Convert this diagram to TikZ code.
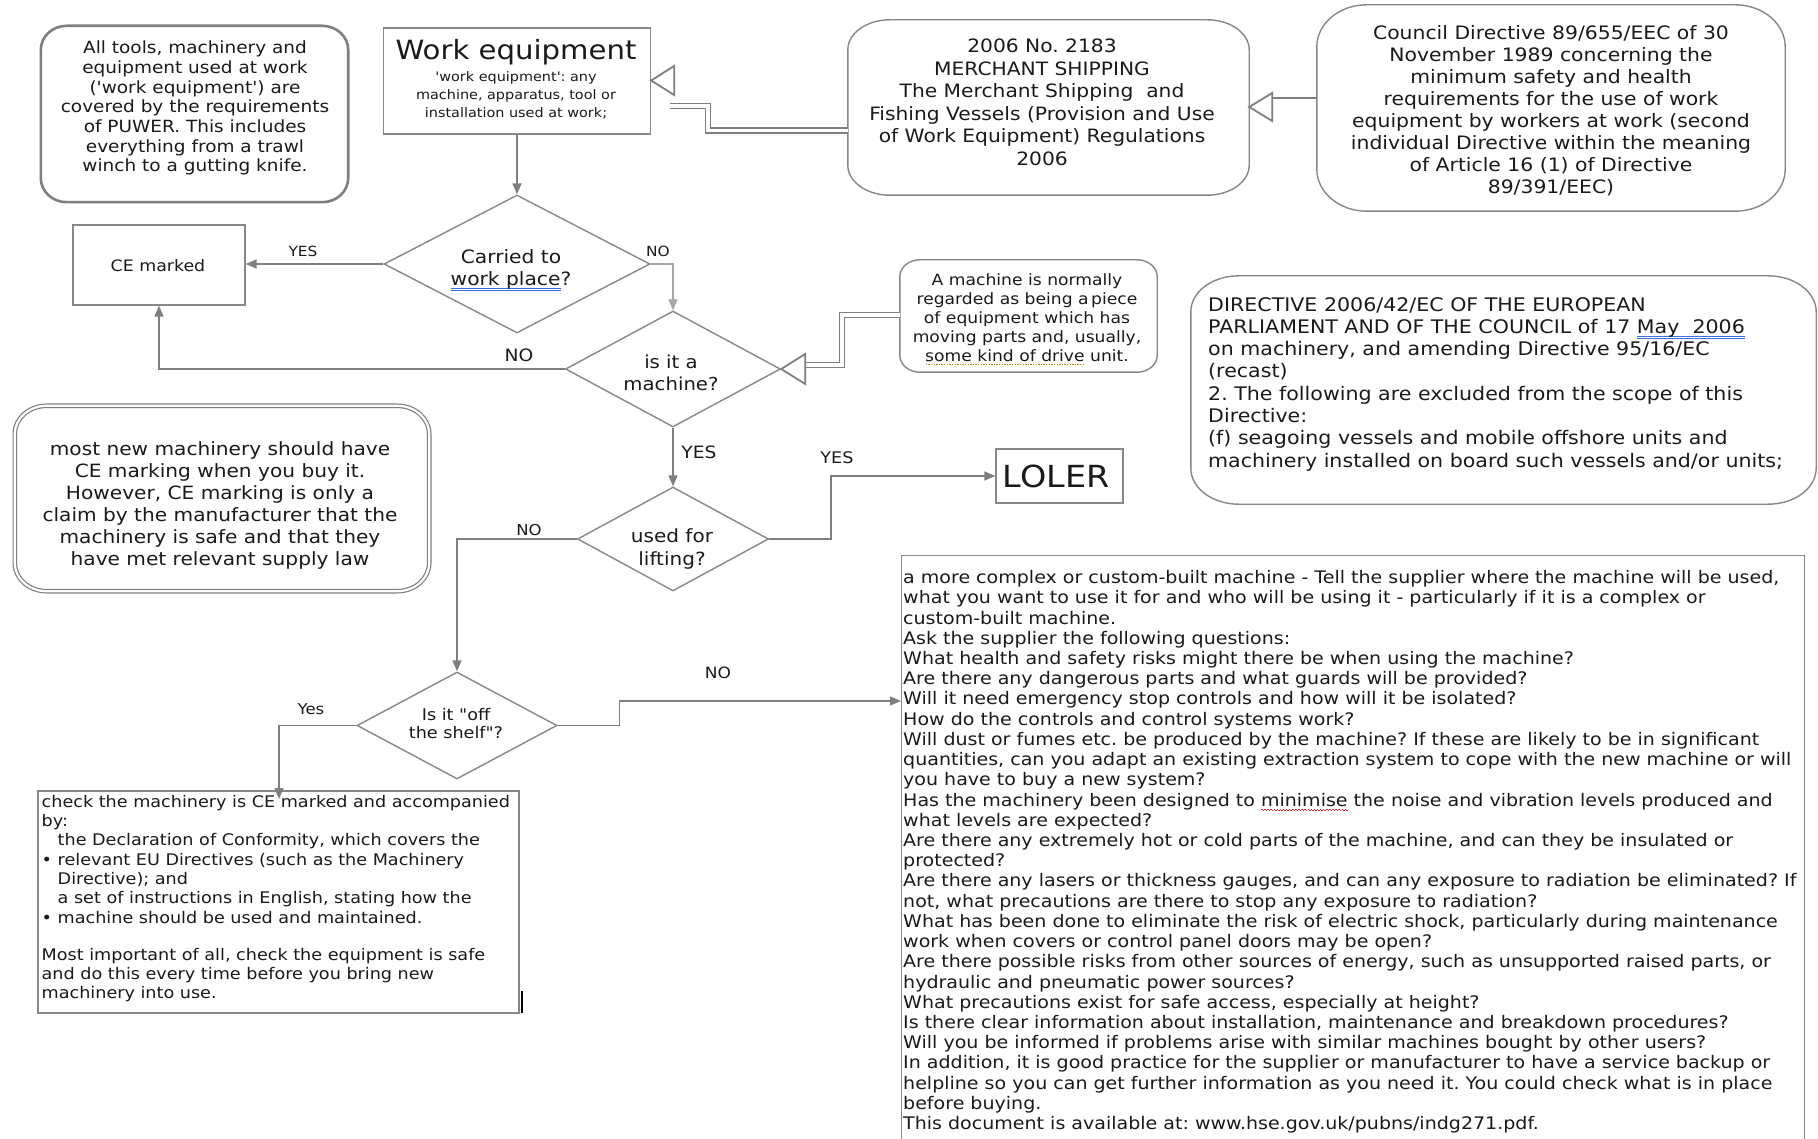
\documentclass[tikz,border=0pt]{standalone}
\usepackage{fontspec}
\usetikzlibrary{arrows.meta,shapes.geometric}
\newfontfamily\dv[FakeStretch=1.1]{DejaVu Sans}
\definecolor{lgray}{HTML}{7F7F7F}
\definecolor{bgray}{HTML}{878787}
\definecolor{txtc}{HTML}{1A1A1A}
\definecolor{ulblue}{HTML}{3C6FD8}
\definecolor{ulbrown}{HTML}{B8860B}
\definecolor{ulred}{HTML}{E02020}
\newcommand\fs[2]{\dv\fontsize{#1}{#2}\selectfont\frenchspacing}
\newcommand\dblu[1]{\setbox0\hbox{#1}\rlap{\color{ulblue}\rule[-3pt]{\wd0}{0.8pt}}\rlap{\color{ulblue}\rule[-5pt]{\wd0}{0.8pt}}\box0\relax}
\newcommand\dotu[1]{\setbox0\hbox{#1}\rlap{\color{ulbrown}\raisebox{-3.5pt}{\hbox to \wd0{\xleaders\hbox to 2.6pt{\hss\rule{1.4pt}{1.4pt}\hss}\hfill}}}\box0\relax}
\newcommand\wavu[1]{\setbox0\hbox{#1}\rlap{\color{ulred}\raisebox{-3.5pt}{\hbox to \wd0{\xleaders\hbox to 3pt{\rule{1.5pt}{0.8pt}\raisebox{-1pt}{\rule{1.5pt}{0.8pt}}}\hfill}}}\box0\relax}
\newcommand\myebox[4][]{\draw[#1] ([xshift=#3]#2.north west) -- ([xshift=-#3]#2.north east) arc[start angle=90,end angle=0,x radius=#3,y radius=#4] -- ([yshift=#4]#2.south east) arc[start angle=0,end angle=-90,x radius=#3,y radius=#4] -- ([xshift=#3]#2.south west) arc[start angle=270,end angle=180,x radius=#3,y radius=#4] -- ([yshift=-#4]#2.north west) arc[start angle=180,end angle=90,x radius=#3,y radius=#4] -- cycle;}
\tikzset{
 every node/.style={text=txtc},
 bord/.style={draw=bgray, line width=1.4pt},
 sq/.style={draw=bgray, line width=1.3pt, inner sep=0pt, rectangle},
 hid/.style={draw=none, inner sep=0pt, rectangle},
 dia/.style={draw=bgray, line width=1.4pt, shape=diamond, inner sep=0pt},
 conn/.style={draw=lgray, line width=1.5pt},
 arr/.style={conn, -{Triangle[length=11pt,width=9pt]}},
 dblc/.style={draw=lgray, line width=1.5pt, double=white, double distance=3.5pt},
 tri/.style={draw=lgray, line width=1.8pt, line join=miter, fill=white},
 lab/.style={inner sep=0pt},
 txt/.style={inner sep=0pt, align=center},
 ltxt/.style={inner sep=0pt, align=left},
}
\begin{document}
\begin{tikzpicture}[x=1pt,y=-1pt]
\useasboundingbox (0,0) rectangle (1818,1139);
\fill[white] (0,0) rectangle (1818,1139);

% tools box
\node[hid, minimum width=307pt, minimum height=176pt] (tools) at (194.5,114) {};
\myebox[draw=lgray, line width=2.6pt]{tools}{26pt}{24pt}
\node[txt, anchor=north, font=\fs{16.8}{19.7}] (toolsT) at (195,40.7) {All tools, machinery and\\equipment used at work\\('work equipment') are\\covered by the requirements\\of PUWER. This includes\\everything from a trawl\\winch to a gutting knife.};

% work equipment
\node[sq, minimum width=267pt, minimum height=106pt] (workeq) at (517,81) {};
\node[txt, font=\fs{26.5}{30}] (workeqT) at (516,52) {Work equipment};
\node[txt, anchor=north, font=\fs{13.1}{18}] (workeqS) at (516,71.8) {'work equipment': any\\machine, apparatus, tool or\\installation used at work;};

% merchant
\node[hid, minimum width=401pt, minimum height=175pt] (merchant) at (1048.5,107.5) {};
\myebox[bord]{merchant}{42pt}{30pt}
\node[txt, anchor=north, font=\fs{18.4}{22.5}] (merchantT) at (1042,39) {2006 No. 2183\\MERCHANT SHIPPING\\The Merchant Shipping\ \ and\\Fishing Vessels (Provision and Use\\of Work Equipment) Regulations\\2006};

% council
\node[hid, minimum width=468pt, minimum height=206pt] (council) at (1551,108) {};
\myebox[bord]{council}{50pt}{42pt}
\node[txt, anchor=north, font=\fs{18.5}{22}] (councilT) at (1551,24.8) {Council Directive 89/655/EEC of 30\\November 1989 concerning the\\minimum safety and health\\requirements for the use of work\\equipment by workers at work (second\\individual Directive within the meaning\\of Article 16 (1) of Directive\\89/391/EEC)};

% carried diamond
\node[dia, minimum width=266pt, minimum height=138pt] (carried) at (517,264) {};
\node[txt, anchor=north, font=\fs{18.4}{22}] (carriedT) at (511,249.5) {Carried to\\\dblu{work place}?};

% CE marked
\node[sq, minimum width=172pt, minimum height=80pt] (ce) at (159,265) {};
\node[txt, font=\fs{15.8}{18}] (ceT) at (158,266) {CE marked};

% machine diamond
\node[dia, minimum width=215pt, minimum height=116pt] (machine) at (673,369) {};
\node[txt, anchor=north, font=\fs{17.9}{22}] (machineT) at (671,354.4) {is it a\\machine?};

% a machine box
\node[hid, minimum width=257pt, minimum height=112pt] (amach) at (1028.5,316) {};
\myebox[bord]{amach}{20pt}{17pt}
\node[txt, anchor=north, font=\fs{15.6}{19.1}] (amachT) at (1027,273.2) {A machine is normally\\regarded as being a\,piece\\of equipment which has\\moving parts and, usually,\\\dotu{some kind of drive} unit.};

% directive box
\node[hid, minimum width=625pt, minimum height=228pt] (directive) at (1503.5,390) {};
\myebox[bord]{directive}{48pt}{36pt}
\node[ltxt, anchor=north west, font=\fs{18.7}{22.3}] (directiveT) at (1208,297) {DIRECTIVE 2006/42/EC OF THE EUROPEAN\\PARLIAMENT AND OF THE COUNCIL of 17 \dblu{May\ \ 2006}\\on machinery, and amending Directive 95/16/EC\\(recast)\\2. The following are excluded from the scope of this\\Directive:\\(f) seagoing vessels and mobile offshore units and\\machinery installed on board such vessels and/or units;};

% most new box
\node[hid, minimum width=414pt, minimum height=185pt] (mostnew) at (222,498.5) {};
\myebox[draw=lgray, line width=1.2pt, double=white, double distance=2.2pt]{mostnew}{32pt}{28pt}
\node[txt, anchor=north, font=\fs{18.3}{22}] (mostnewT) at (220,441.1) {most new machinery should have\\CE marking when you buy it.\\However, CE marking is only a\\claim by the manufacturer that the\\machinery is safe and that they\\have met relevant supply law};

% lifting diamond
\node[dia, minimum width=191pt, minimum height=104pt] (lifting) at (673,539) {};
\node[txt, anchor=north, font=\fs{18.2}{23}] (liftingT) at (672,528.3) {used for\\lifting?};

% LOLER
\node[sq, minimum width=127pt, minimum height=54pt] (loler) at (1059.5,476) {};
\node[txt, font=\fs{30.4}{34}] (lolerT) at (1056,476) {LOLER};

% shelf diamond
\node[dia, minimum width=200pt, minimum height=107pt] (shelf) at (457,725.5) {};
\node[txt, anchor=north, font=\fs{16}{18.5}] (shelfT) at (456,707.7) {Is it "off\\the shelf"?};

% check box
\node[sq, minimum width=481pt, minimum height=222pt] (check) at (278.5,902) {};
\node[ltxt, anchor=north west, font=\fs{16}{19.3}] (checkT) at (41.5,795) {check the machinery is CE marked and accompanied\\by:\\\hspace*{16pt}the Declaration of Conformity, which covers the\\\makebox[16pt][l]{•}relevant EU Directives (such as the Machinery\\\hspace*{16pt}Directive); and\\\hspace*{16pt}a set of instructions in English, stating how the\\\makebox[16pt][l]{•}machine should be used and maintained.\\[17.7pt]Most important of all, check the equipment is safe\\and do this every time before you bring new\\machinery into use.};
\draw[black, line width=1.2pt] (522,991) -- (522,1013);

% big box
\node[sq, minimum width=903pt, minimum height=600pt, anchor=north west] (big) at (901,555) {};
\node[ltxt, anchor=north west, font=\fs{17.3}{20.22}] (bigT) at (903,570.3) {a more complex or custom-built machine - Tell the supplier where the machine will be used,\\what you want to use it for and who will be using it - particularly if it is a complex or\\custom-built machine.\\Ask the supplier the following questions:\\What health and safety risks might there be when using the machine?\\Are there any dangerous parts and what guards will be provided?\\Will it need emergency stop controls and how will it be isolated?\\How do the controls and control systems work?\\Will dust or fumes etc. be produced by the machine? If these are likely to be in significant\\quantities, can you adapt an existing extraction system to cope with the new machine or will\\you have to buy a new system?\\Has the machinery been designed to \wavu{minimise} the noise and vibration levels produced and\\what levels are expected?\\Are there any extremely hot or cold parts of the machine, and can they be insulated or\\protected?\\Are there any lasers or thickness gauges, and can any exposure to radiation be eliminated? If\\not, what precautions are there to stop any exposure to radiation?\\What has been done to eliminate the risk of electric shock, particularly during maintenance\\work when covers or control panel doors may be open?\\Are there possible risks from other sources of energy, such as unsupported raised parts, or\\hydraulic and pneumatic power sources?\\What precautions exist for safe access, especially at height?\\Is there clear information about installation, maintenance and breakdown procedures?\\Will you be informed if problems arise with similar machines bought by other users?\\In addition, it is good practice for the supplier or manufacturer to have a service backup or\\helpline so you can get further information as you need it. You could check what is in place\\before buying.\\This document is available at: www.hse.gov.uk/pubns/indg271.pdf.};

% labels
\node[lab, font=\fs{14}{16}] (l1) at (303,251) {YES};
\node[lab, font=\fs{14}{16}] (l2) at (658,251) {NO};
\node[lab, font=\fs{17}{20}] (l3) at (519,355) {NO};
\node[lab, font=\fs{17}{20}] (l4) at (699,452) {YES};
\node[lab, font=\fs{16}{18}] (l5) at (837,458) {YES};
\node[lab, font=\fs{15}{18}] (l6) at (529,530) {NO};
\node[lab, font=\fs{15}{18}] (l7) at (311,709) {Yes};
\node[lab, font=\fs{15.5}{18}] (l8) at (718,673) {NO};

% connectors
\draw[arr] (workeq.south) -- (carried.north);
\draw[arr] (carried.west) -- (ce.east |- carried.west);
\draw[arr, draw=gray!70, line width=1.1pt] (carried.east) -| (machine.north);
\draw[arr] (machine.west) -| (ce.south);
\draw[arr] (machine.south) -- (lifting.north);
\draw[arr] (lifting.east) -- ++(62,0) |- (loler.west);
\draw[arr] (lifting.west) -| (shelf.north);
\coordinate (chkin) at (279,799);
\draw[arr] (shelf.west) -| (chkin);
\coordinate (bigin) at (901,701);
\draw[arr] (shelf.east) -- ++(62,0) |- (bigin);

% open-triangle connectors
\draw[conn, line width=2pt] (council.west |- 0,98) -- (1271,98);
\draw[tri] (merchant.east |- 0,107) -- ++(23,-14) -- ++(0,28) -- cycle;
\draw[dblc] (merchant.west |- 0,130.5) -| (708,106) -- (670,106);
\draw[tri] (workeq.east |- 0,80.5) -- ++(23,-14.5) -- ++(0,29) -- cycle;
\draw[dblc] (amach.west |- 0,315) -| (842,365) -- (806,365);
\draw[tri] (machine.east) -- ++(24,-15) -- ++(0,30) -- cycle;
\end{tikzpicture}
\end{document}
